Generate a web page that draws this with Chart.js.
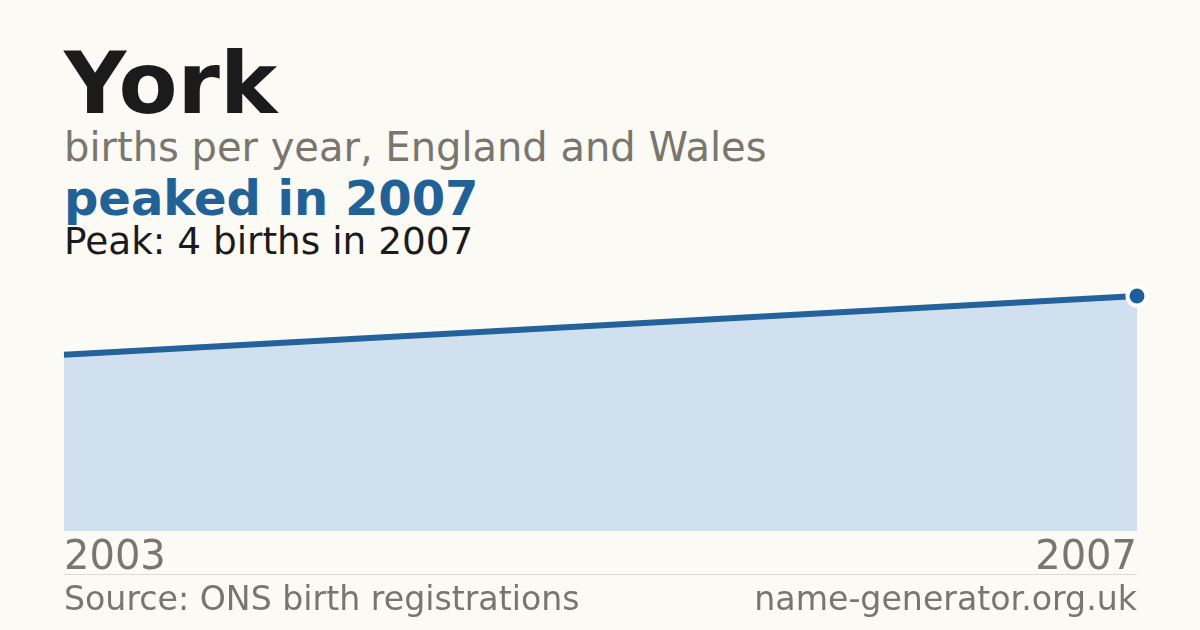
<!DOCTYPE html>
<html>
<head>
<meta charset="utf-8">
<script src="https://cdn.jsdelivr.net/npm/chart.js@4.4.1/dist/chart.umd.min.js"></script>
<style>
  html, body { margin: 0; padding: 0; }
  body {
    width: 1200px; height: 630px; overflow: hidden; position: relative;
    background: #fbfaf5; font-family: "DejaVu Sans", sans-serif;
  }
  .txt { position: absolute; left: 64px; white-space: nowrap; line-height: 1; }
  #title { top: 40px; font-size: 86px; font-weight: bold; color: #1b1b1b; }
  #sub { top: 127px; font-size: 40px; color: #7a766e; }
  #head { top: 174px; font-size: 48px; font-weight: bold; color: #216195; }
  #peak { top: 223px; font-size: 37.4px; color: #1b1b1b; }
  #rule { position: absolute; left: 64px; width: 1073px; top: 574px; height: 1px; background: #dedad2; }
  .foot { position: absolute; top: 582px; font-size: 33.2px; color: #7a766e; line-height: 1; white-space: nowrap; }
  #src { left: 64px; }
  #site { right: 63px; }
  #wrap { position: absolute; left: 0; top: 270px; width: 1200px; height: 340px; }
</style>
</head>
<body>
<div class="txt" id="title">York</div>
<div class="txt" id="sub">births per year, England and Wales</div>
<div class="txt" id="head">peaked in 2007</div>
<div class="txt" id="peak">Peak: 4 births in 2007</div>
<div id="wrap"><canvas id="myChart"></canvas></div>
<div id="rule"></div>
<div class="foot" id="src">Source: ONS birth registrations</div>
<div class="foot" id="site">name-generator.org.uk</div>

<script>
const years = ['2003', '2007'];
const births = [3, 4];
const yMax = 4;

const data = {
    labels: years,
    datasets: [{
        label: 'Births',
        data: births,
        borderColor: '#24629b',
        borderWidth: 6,
        backgroundColor: '#d0e0ef',
        fill: 'origin',
        tension: 0,
        pointRadius: [0, 9.5],
        pointHoverRadius: [0, 9.5],
        pointBackgroundColor: '#1f5f99',
        pointBorderColor: '#ffffff',
        pointBorderWidth: 4,
        clip: false
    }]
};

const config = {
    type: 'line',
    data: data,
    options: {
        responsive: true,
        maintainAspectRatio: false,
        animation: false,
        layout: { padding: { left: 64, right: 63, top: 26, bottom: 31 } },
        plugins: { legend: { display: false }, tooltip: { enabled: false } },
        scales: {
            x: {
                offset: false,
                grid: { display: false },
                border: { display: false },
                ticks: {
                    align: 'inner',
                    padding: 0,
                    maxRotation: 0,
                    color: '#7a766e',
                    font: { family: 'DejaVu Sans', size: 40, lineHeight: 1 }
                }
            },
            y: { display: false, min: 0, max: yMax }
        }
    }
};

const myChart = new Chart(
    document.getElementById('myChart'),
    config
);
</script>
</body>
</html>
